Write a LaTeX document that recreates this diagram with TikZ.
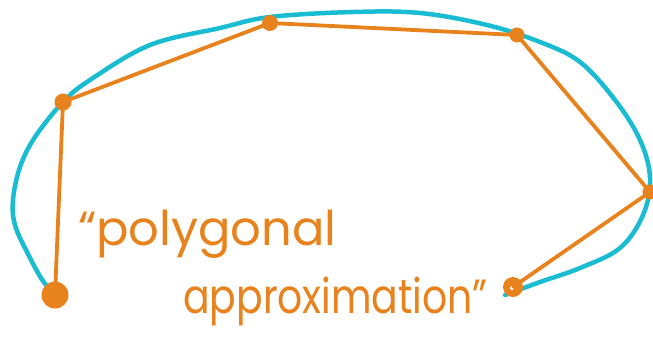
\documentclass[tikz,border=0pt]{standalone}
\usepackage{fontspec}
\newfontfamily\handfont{Poppins}
\definecolor{penorange}{HTML}{E8821C}
\definecolor{pencyan}{HTML}{1ABCD2}
\usetikzlibrary{positioning}

\begin{document}
\begin{tikzpicture}[
    x=1pt, y=-1pt,
    dot/.style={circle, fill=penorange, inner sep=0pt},
    curve/.style={pencyan, line width=4.5pt, line cap=round},
    poly/.style={penorange, line width=3.8pt, line cap=round},
    hand/.style={text=penorange, inner sep=0pt, font=\handfont\fontsize{48}{48}\selectfont}
  ]
    \useasboundingbox (0,0) rectangle (653,338);
    \draw[curve] plot[smooth, tension=0.6] coordinates {
      (58,297) (43,281) (27,252) (15,225) (13,200) (20,167) (35,137) (63,102)
      (90,80) (150,45) (220,28) (270,17) (353,12) (420,13) (487,25) (540,42)
      (580,62) (615,100) (640,140) (650,178) (643,215) (620,248) (580,268)
      (540,282) (505,295)};
    \node[dot, minimum size=27pt] (p1) at (55,295) {};
    \node[dot, minimum size=17pt] (p2) at (63,102) {};
    \node[dot, minimum size=16pt] (p3) at (270,23) {};
    \node[dot, minimum size=15pt] (p4) at (517,35) {};
    \node[dot, minimum size=15pt] (p5) at (650,192) {};
    \node[dot, minimum size=20pt] (p6) at (513,287) {};
    \fill[white] (p6.center) ++(-1,1) circle (2pt);
    \draw[poly] (p1.center) -- (p2.center) -- (p3.center) -- (p4.center) -- (p5.center) -- (p6.center);
    \node[hand, anchor=base west] (line1) at (78,245) {“polygonal};
    \node[hand, anchor=base west] (line2) at (183,313) {\scalebox{0.82}[1]{approximation”}};
\end{tikzpicture}
\end{document}
